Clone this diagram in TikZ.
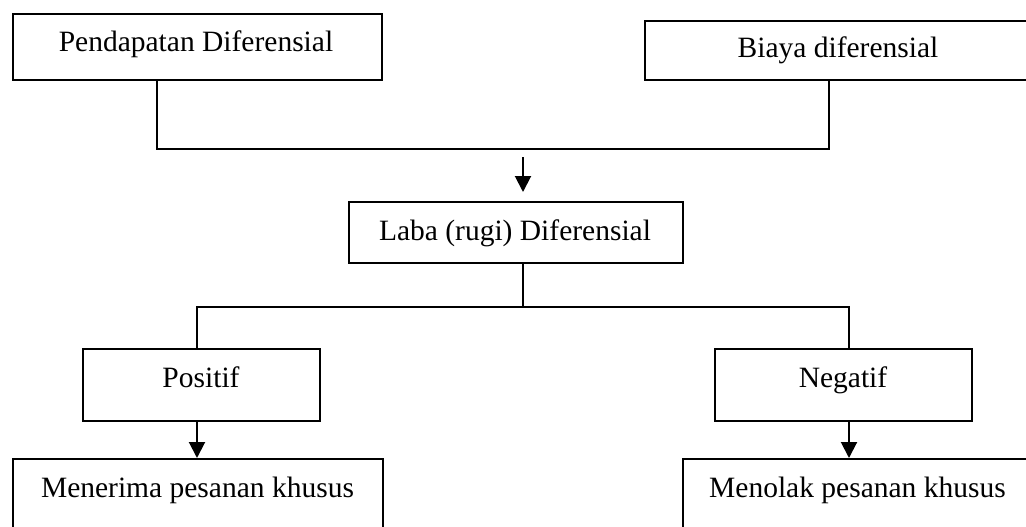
\documentclass[tikz,border=0pt]{standalone}
\usepackage{fontspec}
\setmainfont{Liberation Serif}
\usetikzlibrary{arrows.meta}
\begin{document}
\begin{tikzpicture}[x=1pt,y=-1pt,line width=2pt,
  box/.style={draw,line width=2pt,inner sep=0pt,rectangle},
  lbl/.style={anchor=base,inner sep=0pt,font=\fontsize{29.5}{34}\selectfont},
  arr/.style={-{Triangle[length=16pt,width=16pt]}}]
\useasboundingbox (0,0) rectangle (1026,527);
\clip (0,0) rectangle (1026,527);
% boxes
\node[box,minimum width=369,minimum height=66] (b1) at (197.5,47) {};
\node[box,minimum width=395,minimum height=59] (b2) at (842.5,50.5) {};
\node[box,minimum width=334,minimum height=61] (laba) at (516,232.5) {};
\node[box,minimum width=237,minimum height=72] (pos) at (201.5,385) {};
\node[box,minimum width=257,minimum height=72] (neg) at (843.5,385) {};
\node[box,minimum width=370,minimum height=81] (men) at (198,499.5) {};
\node[box,minimum width=357,minimum height=81] (tol) at (861.5,499.5) {};
% labels
\node[lbl] (t1) at (196,52) {Pendapatan Diferensial};
\node[lbl] (t2) at (838,58) {Biaya diferensial};
\node[lbl] (t3) at (515,240) {Laba (rugi) Diferensial};
\node[lbl] (t4) at (201,387) {Positif};
\node[lbl] (t5) at (843,387) {Negatif};
\node[lbl] (t6) at (197.5,497) {Menerima pesanan khusus};
\node[lbl] (t7) at (857.5,497) {Menolak pesanan khusus};
% junction coordinates
\coordinate (c1) at (157,149);
\coordinate (c2) at (829,149);
\coordinate (a0) at (523,157);
\coordinate (m) at (523,307);
\coordinate (c3) at (197,307);
\coordinate (c4) at (849,307);
% connectors
\draw (b1.south -| c1) -- (c1) -- (c2) -- (b2.south -| c2);
\draw[arr,shorten >=9pt] (a0) -- (laba.north -| a0);
\draw (laba.south -| m) -- (m);
\draw (pos.north -| c3) -- (c3) -- (c4) -- (neg.north -| c4);
\draw[arr] (pos.south -| c3) -- (men.north -| c3);
\draw[arr] (neg.south -| c4) -- (tol.north -| c4);
\end{tikzpicture}
\end{document}
